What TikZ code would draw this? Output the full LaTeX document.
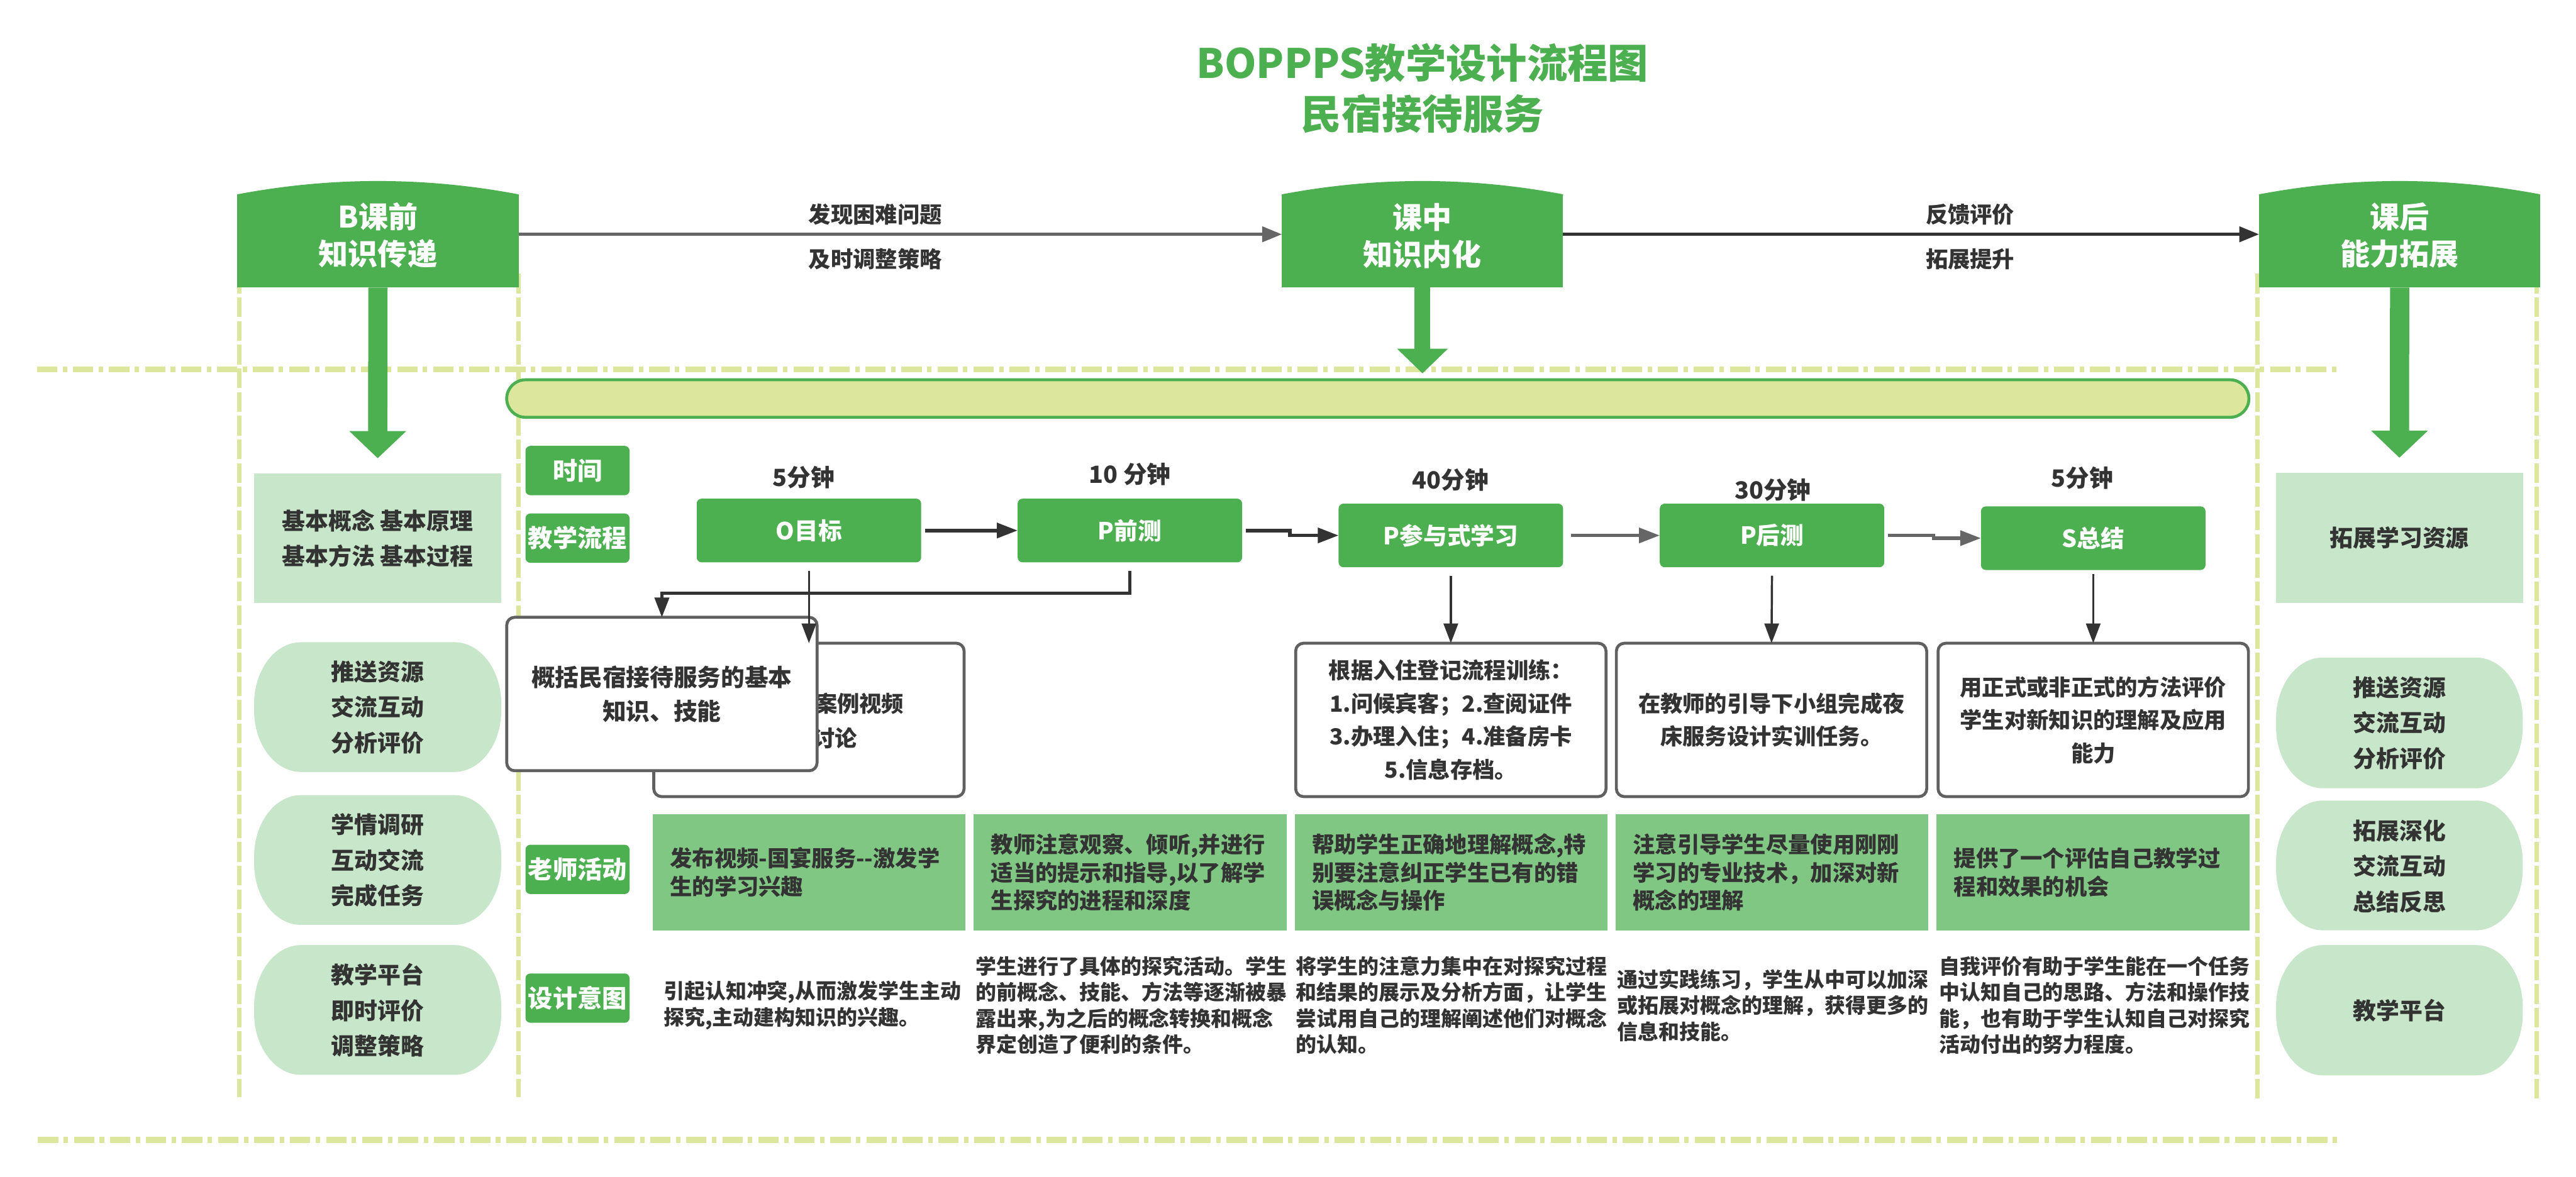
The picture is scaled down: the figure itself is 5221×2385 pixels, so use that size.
\documentclass[tikz,border=0pt]{standalone}
\usepackage{fontspec}
\setmainfont{Noto Sans CJK SC}
\usetikzlibrary{arrows.meta,calc}
\definecolor{G}{HTML}{4CAF50}
\definecolor{TG}{HTML}{81C784}
\definecolor{LG}{HTML}{C8E6C9}
\definecolor{YG}{HTML}{DCE69C}
\definecolor{DL}{HTML}{DDE69D}
\definecolor{TX}{HTML}{333333}
\definecolor{BD}{HTML}{606060}
\definecolor{AG}{HTML}{666666}
\newcommand\fs[2]{\fontsize{#1}{#2}\selectfont}
% pill with elliptical ends: x0 y0 x1 y1 (px units)
\newcommand\pillshape[4]{\fill[LG] (#1+95,#2) -- (#3-95,#2) .. controls (#3-42.5,#2) and (#3,#2+56) .. (#3,#2+125) -- (#3,#4-125) .. controls (#3,#4-56) and (#3-42.5,#4) .. (#3-95,#4) -- (#1+95,#4) .. controls (#1+42.5,#4) and (#1,#4-56) .. (#1,#4-125) -- (#1,#2+125) .. controls (#1,#2+56) and (#1+42.5,#2) .. (#1+95,#2) -- cycle;}
% arched cap of a banner, centred at x
\newcommand\bannercap[1]{\fill[G] (#1-285,397) -- (#1-285,394) .. controls (#1-95,358) and (#1+95,358) .. (#1+285,394) -- (#1+285,397) -- cycle;}
\begin{document}
\begin{tikzpicture}[x=0.25pt,y=-0.25pt,
  every node/.style={inner sep=0pt,outer sep=0pt},
  title/.style={text=G,font=\bfseries\fs{20.5}{25.75},align=center},
  banner/.style={fill=G,minimum width=142.5pt,minimum height=47.25pt},
  btext/.style={text=white,font=\bfseries\fs{15}{18.75},align=center},
  alabel/.style={text=TX,font=\bfseries\fs{11.25}{14}},
  proc/.style={fill=G,rounded corners=2.5pt,minimum width=113.75pt,minimum height=32.25pt,text=white,font=\bfseries\fs{12}{14}},
  rowlab/.style={fill=G,rounded corners=2.5pt,minimum width=52.75pt,minimum height=25pt,text=white,font=\bfseries\fs{12.5}{14}},
  timel/.style={text=TX,font=\bfseries\fs{12}{14}},
  wbox/.style={draw=BD,line width=1.5pt,rounded corners=4pt,fill=white,minimum width=157.25pt,minimum height=77.75pt,text=TX,align=center,font=\bfseries\fs{11.25}{16.75}},
  wtext/.style={text=TX,font=\bfseries\fs{11.25}{16.75}},
  tbox/.style={fill=TG,minimum height=58.75pt,text width=141pt,inner xsep=8.75pt,align=left,text=TX,font=\bfseries\fs{11.25}{14.25}},
  dtext/.style={anchor=west,align=left,text=TX,font=\bfseries\fs{10.5}{13.25}},
  lrect/.style={fill=LG,minimum width=125.25pt,minimum height=65.75pt,text=TX,align=center,font=\bfseries\fs{11.75}{18}},
  ptext/.style={text=TX,align=center,font=\bfseries\fs{11.75}{18}},
  bar/.style={fill=YG,draw=G,line width=1.5pt,rounded corners=9.5pt,minimum width=882.75pt,minimum height=19pt},
  vdash/.style={draw=DL,line width=2.25pt,dash pattern=on 10pt off 2pt},
  hdash/.style={draw=DL,line width=3pt,dash pattern=on 10.25pt off 2.75pt on 2.25pt off 3pt},
  bigarrow/.style={draw=G,line width=9.75pt,-{Triangle[width=28pt,length=13.75pt]}},
  midarrow/.style={draw=G,line width=8pt,-{Triangle[width=25pt,length=12.5pt]}},
  harrow/.style={line width=1.5pt,-{Triangle[width=7.75pt,length=10pt]}},
  parrow/.style={line width=1.75pt,-{Triangle[width=7.5pt,length=10.5pt]}},
  darrow/.style={draw=TX,line width=1.1pt,-{Triangle[width=7.25pt,length=10pt]}}]

\fill[white] (0,0) rectangle (5221,2385);
\useasboundingbox (0,0) rectangle (5221,2385);

% guide lines
\draw[vdash] (485,555) -- (485,2224);
\draw[vdash] (1051,555) -- (1051,2224);
\draw[vdash] (4575,555) -- (4575,2229);
\draw[vdash] (5141,555) -- (5141,2229);
\draw[hdash] (75,749) -- (4740,749);
\draw[hdash] (77,2311) -- (4737,2311);

% title
\node[title] (title) at (2883,178.5) {BOPPPS教学设计流程图\\民宿接待服务};

% banners
\bannercap{766}
\bannercap{2883}
\bannercap{4863.5}
\node[banner] (bB) at (766,488.5) {};
\node[banner] (bM) at (2883,488.5) {};
\node[banner] (bA) at (4863.5,488.5) {};
\node[btext] (bBt) at (766,477) {B课前\\知识传递};
\node[btext] (bMt) at (2883,478) {课中\\知识内化};
\node[btext] (bAt) at (4863.5,477) {课后\\能力拓展};

\coordinate (ly) at (0,475);
\draw[harrow,AG] (bB.east |- ly) -- (bM.west |- ly);
\draw[harrow,TX] (bM.east |- ly) -- (bA.west |- ly);
\node[alabel] (l1) at (1774,435) {发现困难问题};
\node[alabel] (l2) at (1774,525) {及时调整策略};
\node[alabel] (l3) at (3993,435) {反馈评价};
\node[alabel] (l4) at (3993,525) {拓展提升};

% central bar
\node[bar] (bar) at (2792.5,808) {};

% left column
\node[lrect] (lr1) at (765.5,1091.5) {基本概念 基本原理\\基本方法 基本过程};
\pillshape{515}{1302}{1016}{1565}
\node[ptext] (lp1) at (765.5,1434) {推送资源\\交流互动\\分析评价};
\pillshape{515}{1612}{1016}{1875}
\node[ptext] (lp2) at (765.5,1744) {学情调研\\互动交流\\完成任务};
\pillshape{515}{1916}{1016}{2179}
\node[ptext] (lp3) at (765.5,2048) {教学平台\\即时评价\\调整策略};

% right column
\node[lrect] (rr1) at (4863,1090.5) {拓展学习资源};
\pillshape{4613}{1333}{5113}{1598}
\node[ptext] (rp1) at (4863,1466) {推送资源\\交流互动\\分析评价};
\pillshape{4613}{1623}{5113}{1886}
\node[ptext] (rp2) at (4863,1756) {拓展深化\\交流互动\\总结反思};
\pillshape{4613}{1916}{5113}{2180}
\node[ptext] (rp3) at (4863,2049) {教学平台};

% big arrows
\draw[bigarrow,shorten >=7.75pt] (bB.south) -- (lr1.north);
\draw[midarrow,shorten >=3.25pt] (bM.south) -- (bM.south |- bar.north);
\draw[bigarrow,shorten >=7.75pt] (bA.south) -- (rr1.north);

% row labels
\node[rowlab] (rT) at (1170.5,954) {时间};
\node[rowlab] (rF) at (1170.5,1091) {教学流程};
\node[rowlab] (rA) at (1170.5,1762.5) {老师活动};
\node[rowlab] (rD) at (1170.5,2023.5) {设计意图};

% process steps
\node[proc] (pO) at (1639.5,1075.5) {O目标};
\node[proc] (pQ) at (2290,1075.5) {P前测};
\node[proc] (pC) at (2940.5,1085.5) {P参与式学习};
\node[proc] (pH) at (3591.5,1085.5) {P后测};
\node[proc] (pS) at (4242.5,1091) {S总结};
\node[timel] (t1) at (1629,968) {5分钟};
\node[timel] (t2) at (2290,962) {10 分钟};
\node[timel] (t3) at (2940,973) {40分钟};
\node[timel] (t4) at (3593,993) {30分钟};
\node[timel] (t5) at (4220,969) {5分钟};

\draw[parrow,TX,shorten <=2pt] (pO.east) -- (pQ.west);
\draw[parrow,TX,shorten <=2pt] (pQ.east) -- ++(97,0) |- (pC.west);
\draw[parrow,AG,shorten <=4pt] (pC.east) -- (pH.west);
\draw[parrow,AG,shorten <=2pt] (pH.east) -- ++(100,0) |- (pS.west);

% white boxes
\node[wbox] (wb2) at (1639.5,1459.5) {};
\node[wtext,anchor=east] (wb2a) at (1832,1426) {案例视频};
\node[wtext,anchor=east] (wb2b) at (1737,1497) {讨论};
\node[wbox,font=\bfseries\fs{12}{17.25}] (wb1) at (1341.5,1407) {概括民宿接待服务的基本\\知识、技能};
\node[wbox] (wb3) at (2940.5,1459.5) {根据入住登记流程训练：\\1.问候宾客；2.查阅证件\\3.办理入住；4.准备房卡\\5.信息存档。};
\node[wbox] (wb4) at (3590.5,1459.5) {在教师的引导下小组完成夜\\床服务设计实训任务。};
\node[wbox] (wb5) at (4242.5,1459.5) {用正式或非正式的方法评价\\学生对新知识的理解及应用\\能力};

\draw[darrow,shorten <=4.25pt] (pO.south) -- (wb2.north);
\draw[darrow,line width=1.5pt,shorten <=4.25pt] (pQ.south) -- ++(0,63) -| (wb1.north);
\draw[darrow,shorten <=4.25pt] (pC.south) -- (wb3.north);
\draw[darrow,shorten <=4.25pt] (pH.south) -- (wb4.north);
\draw[darrow,shorten <=2pt] (pS.south) -- (wb5.north);

% teacher activities
\node[tbox] (ta1) at (1640,1768.5) {发布视频-国宴服务-{}-激发学\\生的学习兴趣};
\node[tbox] (ta2) at (2290.5,1768.5) {教师注意观察、倾听,并进行\\适当的提示和指导,以了解学\\生探究的进程和深度};
\node[tbox] (ta3) at (2941,1768.5) {帮助学生正确地理解概念,特\\别要注意纠正学生已有的错\\误概念与操作};
\node[tbox] (ta4) at (3591.5,1768.5) {注意引导学生尽量使用刚刚\\学习的专业技术，加深对新\\概念的理解};
\node[tbox] (ta5) at (4242,1768.5) {提供了一个评估自己教学过\\程和效果的机会};

% design intent
\node[dtext] (d1) at (1345,2038) {引起认知冲突,从而激发学生主动\\探究,主动建构知识的兴趣。};
\node[dtext] (d2) at (1978,2038) {学生进行了具体的探究活动。学生\\的前概念、技能、方法等逐渐被暴\\露出来,为之后的概念转换和概念\\界定创造了便利的条件。};
\node[dtext] (d3) at (2627,2038) {将学生的注意力集中在对探究过程\\和结果的展示及分析方面，让学生\\尝试用自己的理解阐述他们对概念\\的认知。};
\node[dtext] (d4) at (3278,2038) {通过实践练习，学生从中可以加深\\或拓展对概念的理解，获得更多的\\信息和技能。};
\node[dtext] (d5) at (3930,2038) {自我评价有助于学生能在一个任务\\中认知自己的思路、方法和操作技\\能，也有助于学生认知自己对探究\\活动付出的努力程度。};
\end{tikzpicture}
\end{document}
